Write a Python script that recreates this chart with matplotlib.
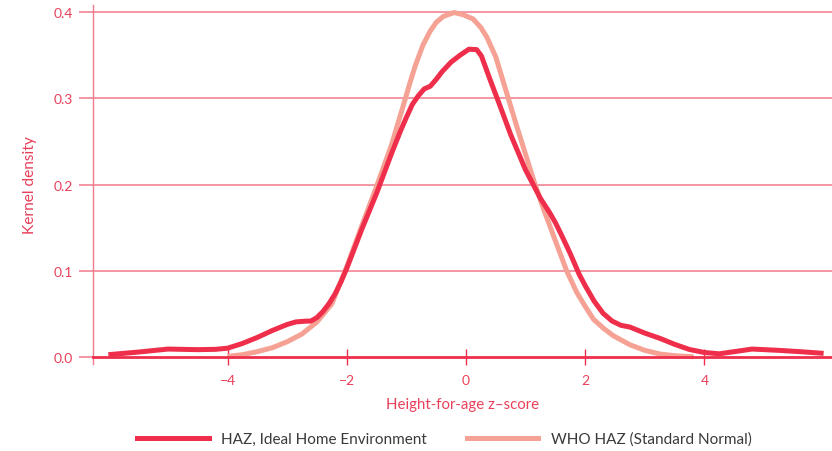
import matplotlib.pyplot as plt
from matplotlib.lines import Line2D

# Courbe HAZ (environnement idéal)
haz_x = [-6.0, -5.5, -5.0, -4.5, -4.2, -4.0, -3.75, -3.5, -3.25, -3.0, -2.85, -2.7, -2.6,
         -2.5, -2.4, -2.3, -2.2, -2.1, -2.0, -1.75, -1.5, -1.25, -1.1, -1.0, -0.9, -0.8,
         -0.7, -0.6, -0.5, -0.4, -0.25, -0.1, 0.05, 0.18, 0.26, 0.4, 0.57, 0.75, 1.0,
         1.25, 1.4, 1.5, 1.6, 1.75, 1.9, 2.0, 2.15, 2.3, 2.45, 2.6, 2.75, 3.0,
         3.25, 3.5, 3.75, 4.0, 4.25, 4.5, 4.8, 5.25, 5.6, 6.0]
haz_y = [0.003, 0.006, 0.0095, 0.0088, 0.0092, 0.0105, 0.016, 0.023, 0.031, 0.038, 0.041, 0.0418, 0.042,
         0.046, 0.053, 0.062, 0.073, 0.087, 0.103, 0.148, 0.190, 0.236, 0.262, 0.278, 0.293, 0.303,
         0.311, 0.314, 0.322, 0.331, 0.342, 0.350, 0.357, 0.3565, 0.349, 0.3225, 0.2915, 0.258, 0.217,
         0.184, 0.168, 0.156, 0.142, 0.120, 0.096, 0.083, 0.065, 0.051, 0.042, 0.037, 0.035, 0.028,
         0.022, 0.015, 0.009, 0.0055, 0.004, 0.0065, 0.0095, 0.008, 0.0065, 0.0045]

# Courbe OMS (normale standard)
who_x = [-4.0, -3.75, -3.5, -3.25, -3.0, -2.75, -2.5, -2.25, -2.0, -1.75, -1.5, -1.25,
         -1.05, -0.94, -0.85, -0.72, -0.6, -0.5, -0.38, -0.2, -0.05, 0.12, 0.25, 0.35,
         0.5, 0.68, 0.85, 1.0, 1.16, 1.3, 1.5, 1.69, 1.86, 2.0, 2.14, 2.3, 2.47, 2.75,
         3.0, 3.25, 3.5, 3.82]
who_y = [0.001, 0.003, 0.0065, 0.011, 0.018, 0.027, 0.041, 0.062, 0.105, 0.152, 0.198, 0.246,
         0.292, 0.318, 0.338, 0.362, 0.378, 0.388, 0.395, 0.3995, 0.397, 0.392, 0.382, 0.371,
         0.348, 0.307, 0.268, 0.235, 0.200, 0.172, 0.135, 0.100, 0.075, 0.059, 0.044, 0.034, 0.025, 0.0145,
         0.008, 0.0038, 0.0018, 0.0006]

x_ticks = [-4, -2, 0, 2, 4]
x_labels = ['\u22124', '\u22122', '0', '2', '4']
y_ticks = [0.0, 0.1, 0.2, 0.3, 0.4]
y_labels = ['0.0', '0.1', '0.2', '0.3', '0.4']

red = '#EE2E4A'
salmon = '#F5A194'
grid = '#F07A8C'
txt = '#E8405A'

plt.rcParams['font.family'] = ['Lato', 'DejaVu Sans']

fig = plt.figure(figsize=(8.32, 4.52), dpi=100)
ax = fig.add_axes([0.1114, 0.1925, 0.8886, 0.7942])

ax.plot(haz_x, haz_y, color=red, lw=3.6, solid_capstyle='butt',
        solid_joinstyle='round', zorder=4)
ax.plot(who_x, who_y, color=salmon, lw=3.6, solid_capstyle='butt',
        solid_joinstyle='round', zorder=3)

ax.set_xlim(-6.263, 6.141)
ax.set_ylim(-0.0078, 0.4082)

for v in y_ticks[1:]:
    ax.axhline(v, color=grid, lw=1.1, zorder=1)

for s in ['top', 'right']:
    ax.spines[s].set_visible(False)
ax.spines['left'].set_color(grid)
ax.spines['left'].set_linewidth(1.0)
ax.spines['bottom'].set_position(('data', 0))
ax.spines['bottom'].set_color(red)
ax.spines['bottom'].set_linewidth(2.0)
ax.spines['bottom'].set_zorder(5)

ax.set_xticks(x_ticks)
ax.set_xticklabels(x_labels)
ax.set_yticks(y_ticks)
ax.set_yticklabels(y_labels)
ax.tick_params(axis='x', direction='inout', length=11.5, width=1.0, color=red,
               labelcolor=txt, labelsize=10, pad=6)
ax.tick_params(axis='y', direction='out', length=10, width=1.1, color=grid,
               labelcolor=txt, labelsize=10, pad=4)

ax.set_xlabel('Height-for-age z\u2013score', color=txt, fontsize=10.8, labelpad=8)
ax.set_ylabel('Kernel density', color=txt, fontsize=11.2, labelpad=12)

handles = [Line2D([], [], color=red, lw=3.6),
           Line2D([], [], color=salmon, lw=3.6)]
fig.legend(handles, ['HAZ, Ideal Home Environment', 'WHO HAZ (Standard Normal)'],
           loc='center', bbox_to_anchor=(0.534, 0.027), ncol=2, frameon=False,
           fontsize=11, labelcolor='#3A3A3A', handlelength=4.7, handletextpad=0.8,
           columnspacing=2.6)

fig.savefig('out.png', dpi=100)
